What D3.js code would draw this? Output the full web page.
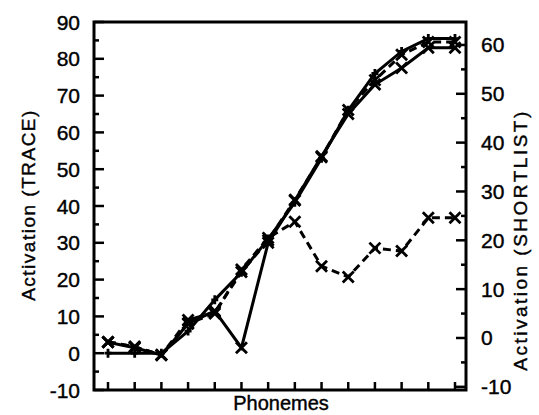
<!DOCTYPE html>
<html>
<head>
<meta charset="utf-8">
<script src="https://cdn.jsdelivr.net/npm/d3@7"></script>
<style>
  body { margin: 0; background: #fff; }
  text { font-family: "Liberation Sans", Arial, sans-serif; fill: #000; stroke: #000; stroke-width: 0.4px; }
</style>
</head>
<body>
<div id="chart"></div>
<script>
// phoneme positions along x (14 slices)
const phonemes = d3.range(14);

// TRACE activations (left axis)
const traceTarget = [0, 0, 0, 6, 14.5, 22, 31, 41, 53, 66, 76, 82, 85.5, 85.5];
const traceDip    = [3, 1.5, -0.5, 8, 11.5, 1.5, 30, 41.5, 53.5, 65, 73, 77.5, 83, 83];

// SHORTLIST activations (right axis)
const shortHigh = [-0.8, -1.8, -3.5, 3.7, 5.3, 13.5, 20, 28.3, 37, 46.7, 52.8, 58, 60.6, 60.6];
const shortLow  = [-0.8, -1.8, -3.5, 3, 5, 14, 20.5, 23.8, 14.7, 12.5, 18.4, 17.8, 24.6, 24.6];

const leftTicks = [-10, 0, 10, 20, 30, 40, 50, 60, 70, 80, 90];
const rightTicks = [-10, 0, 10, 20, 30, 40, 50, 60];

const w = 539, h = 415;
const plotL = 94, plotR = 466, plotT = 22, plotB = 390;

let svg = d3.select("#chart").append("svg")
  .attr("width", w).attr("height", h);

let x = d3.scaleLinear().domain([0, 13]).range([108, 455]);
let yL = d3.scaleLinear().domain([-10, 90]).range([plotB, plotT]);
let yR = d3.scaleLinear().domain([-10.65, 64.7]).range([plotB, plotT]);

// ticks, drawn inward
let g = svg.append("g").attr("stroke", "#000");
d3.range(-10, 91, 5).forEach(function(v) {
  let len = v % 10 === 0 ? 10 : 5;
  g.append("line").attr("x1", plotL).attr("x2", plotL + len)
    .attr("y1", yL(v)).attr("y2", yL(v)).attr("stroke-width", 2.5);
});
d3.range(-10, 65, 5).forEach(function(v) {
  let len = v % 10 === 0 ? 10 : 5;
  g.append("line").attr("x1", plotR).attr("x2", plotR - len)
    .attr("y1", yR(v)).attr("y2", yR(v)).attr("stroke-width", 2.5);
});
phonemes.forEach(function(p) {
  g.append("line").attr("x1", x(p)).attr("x2", x(p))
    .attr("y1", plotB).attr("y2", plotB - 8).attr("stroke-width", 2.5);
});

// frame
svg.append("rect").attr("x", plotL).attr("y", plotT)
  .attr("width", plotR - plotL).attr("height", plotB - plotT)
  .attr("fill", "none").attr("stroke", "#000").attr("stroke-width", 3);

// tick labels
svg.selectAll(".lt").data(leftTicks).enter().append("text")
  .attr("x", 80).attr("y", d => yL(d) + 7.5)
  .attr("text-anchor", "end").style("font-size", "21px")
  .text(d => d);
svg.selectAll(".rt").data(rightTicks).enter().append("text")
  .attr("x", 481).attr("y", d => yR(d) + 7.5)
  .attr("text-anchor", "start").style("font-size", "21px")
  .text(d => d);

// axis titles
svg.append("text").attr("transform", "translate(35,205) rotate(-90)")
  .attr("text-anchor", "middle").style("font-size", "19px")
  .style("letter-spacing", "1.5px")
  .text("Activation (TRACE)");
svg.append("text").attr("transform", "translate(527,240) rotate(-90)")
  .attr("text-anchor", "middle").style("font-size", "19px")
  .style("letter-spacing", "2.5px")
  .text("Activation (SHORTLIST)");
svg.append("text").attr("x", 281).attr("y", 410)
  .attr("text-anchor", "middle").style("font-size", "20px")
  .text("Phonemes");

// lines
function drawSeries(vals, yScale, dashed, marker) {
  let line = d3.line().x((d, i) => x(i)).y(d => yScale(d));
  svg.append("path").datum(vals).attr("d", line)
    .attr("fill", "none").attr("stroke", "#000")
    .attr("stroke-width", 3)
    .attr("stroke-dasharray", dashed ? "8,5" : null);
  let s = marker === "x" ? 5.5 : 4.5;
  vals.forEach(function(v, i) {
    let cx = x(i), cy = yScale(v);
    if (marker === "x") {
      svg.append("path")
        .attr("d", `M${cx - s},${cy - s}L${cx + s},${cy + s}M${cx - s},${cy + s}L${cx + s},${cy - s}`)
        .attr("stroke", "#000").attr("stroke-width", 2.8);
    } else {
      svg.append("path")
        .attr("d", `M${cx},${cy - s}L${cx},${cy + s}M${cx - s + 1},${cy}L${cx + s - 1},${cy}`)
        .attr("stroke", "#000").attr("stroke-width", 2.8);
    }
  });
}

drawSeries(traceTarget, yL, false, "+");
drawSeries(traceDip, yL, false, "x");
drawSeries(shortHigh, yR, true, "x");
drawSeries(shortLow, yR, true, "x");
</script>
</body>
</html>
